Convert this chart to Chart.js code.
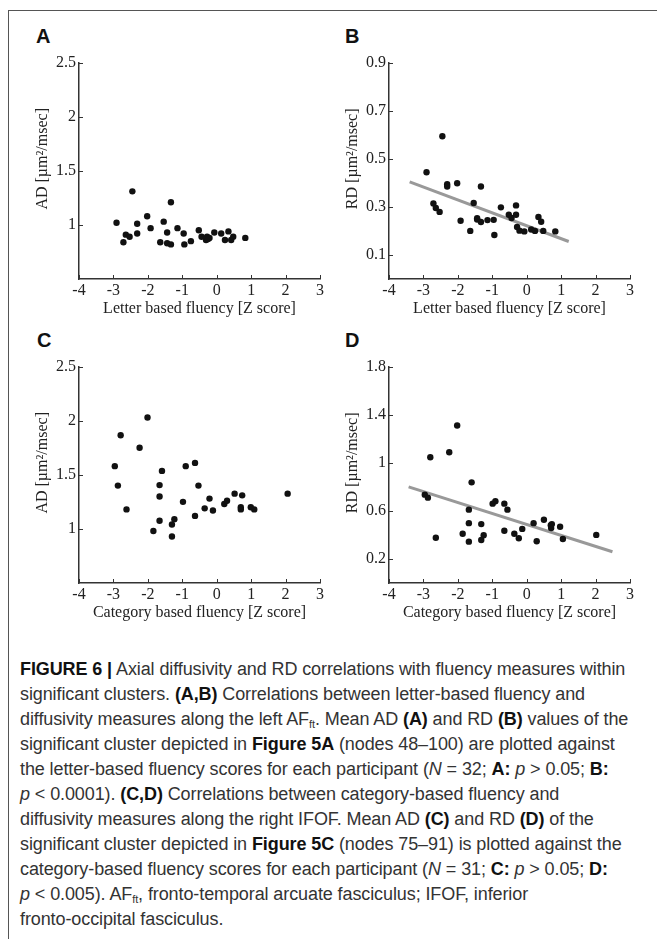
<!DOCTYPE html>
<html>
<head>
<meta charset="utf-8">
<script src="https://cdn.jsdelivr.net/npm/chart.js@4.4.1/dist/chart.umd.min.js"></script>
<style>
  body { margin: 0; background: #fff; width: 657px; height: 939px; position: relative; overflow: hidden; }
  .frame-top { position: absolute; left: 8px; top: 10px; width: 649px; height: 1px; background: #555; }
  .frame-left { position: absolute; left: 8px; top: 10px; width: 1px; height: 929px; background: #555; }
  canvas { position: absolute; }
  .panel { position: absolute; font: bold 20px "Liberation Sans", Arial, sans-serif; color: #111; }
  .caption { position: absolute; left: 20px; top: 657px; width: 640px; font: 18px "Liberation Sans", Arial, sans-serif; line-height: 25px; color: #333; white-space: nowrap; letter-spacing: -0.1px; }
  .caption b { color: #111; }
  .caption sub { font-size: 11px; vertical-align: -3px; line-height: 0; }
</style>
</head>
<body>
<div class="frame-top"></div>
<div class="frame-left"></div>

<div class="panel" style="left:36px; top:25px;">A</div>
<div class="panel" style="left:345px; top:25px;">B</div>
<div class="panel" style="left:37px; top:329px;">C</div>
<div class="panel" style="left:345px; top:329px;">D</div>

<canvas id="chartA" width="310" height="280" style="left:20px; top:50px;"></canvas>
<canvas id="chartB" width="310" height="280" style="left:330px; top:50px;"></canvas>
<canvas id="chartC" width="310" height="280" style="left:20px; top:354px;"></canvas>
<canvas id="chartD" width="310" height="280" style="left:330px; top:354px;"></canvas>

<div class="caption">
<div><b>FIGURE 6 |</b> Axial diffusivity and RD correlations with fluency measures within</div>
<div>significant clusters. <b>(A,B)</b> Correlations between letter-based fluency and</div>
<div>diffusivity measures along the left AF<sub>ft</sub>. Mean AD <b>(A)</b> and RD <b>(B)</b> values of the</div>
<div>significant cluster depicted in <b>Figure 5A</b> (nodes 48–100) are plotted against</div>
<div>the letter-based fluency scores for each participant (<i>N</i> = 32; <b>A:</b> <i>p</i> &gt; 0.05; <b>B:</b></div>
<div><i>p</i> &lt; 0.0001). <b>(C,D)</b> Correlations between category-based fluency and</div>
<div>diffusivity measures along the right IFOF. Mean AD <b>(C)</b> and RD <b>(D)</b> of the</div>
<div>significant cluster depicted in <b>Figure 5C</b> (nodes 75–91) is plotted against the</div>
<div>category-based fluency scores for each participant (<i>N</i> = 31; <b>C:</b> <i>p</i> &gt; 0.05; <b>D:</b></div>
<div><i>p</i> &lt; 0.005). AF<sub>ft</sub>, fronto-temporal arcuate fasciculus; IFOF, inferior</div>
<div>fronto-occipital fasciculus.</div>
</div>

<script>
// letter based fluency (panels A, B), 32 participants
const letterZ = [-2.91, -2.45, -2.71, -2.64, -2.53, -2.31, -2.31, -2.02, -1.92, -1.64, -1.54, -1.44, -1.44, -1.33, -1.33, -1.14,
                 -0.96, -0.94, -0.75, -0.52, -0.44, -0.31, -0.28, -0.21, -0.07, 0.13, 0.24, 0.34, 0.42, 0.48, 0.83, -0.25];
const letterAD = [1.02, 1.31, 0.84, 0.91, 0.89, 1.01, 0.92, 1.08, 0.97, 0.84, 1.03, 0.93, 0.83, 1.21, 0.82, 0.97,
                  0.92, 0.82, 0.85, 0.95, 0.89, 0.86, 0.89, 0.88, 0.93, 0.92, 0.86, 0.94, 0.86, 0.89, 0.88, 0.87];
const letterZ_B = [-2.91, -2.45, -2.71, -2.64, -2.53, -2.31, -2.31, -2.02, -1.92, -1.64, -1.54, -1.44, -1.44, -1.33, -1.33, -1.14,
                   -0.96, -0.94, -0.75, -0.52, -0.44, -0.31, -0.31, -0.28, -0.21, -0.07, 0.13, 0.24, 0.34, 0.42, 0.48, 0.83];
const letterRD = [0.444, 0.594, 0.314, 0.295, 0.279, 0.394, 0.385, 0.398, 0.242, 0.200, 0.316, 0.253, 0.247, 0.385, 0.237, 0.245,
                  0.246, 0.183, 0.298, 0.267, 0.254, 0.306, 0.267, 0.216, 0.201, 0.198, 0.206, 0.200, 0.258, 0.238, 0.200, 0.198];
const fitB_x = [-3.40, 1.22];
const fitB_y = [0.404, 0.156];

// category based fluency (panels C, D), 31 participants
const categoryZ = [-2.01, -2.79, -2.24, -2.96, -1.59, -0.90, -0.63, -2.87, -1.66, -0.53, -1.66, 0.52, 0.74, 2.06, -0.98, -0.21,
                   0.22, 0.30, -2.62, -0.35, -0.11, 0.70, 0.70, 0.99, 1.09, -0.63, -1.66, -1.23, -1.30, -1.84, -1.30];
const categoryAD = [2.03, 1.865, 1.75, 1.58, 1.536, 1.58, 1.61, 1.40, 1.405, 1.40, 1.30, 1.326, 1.31, 1.326, 1.25, 1.28,
                    1.23, 1.26, 1.18, 1.19, 1.17, 1.20, 1.18, 1.20, 1.18, 1.12, 1.076, 1.09, 1.04, 0.98, 0.93];
const categoryZ_D = [-2.02, -2.80, -2.25, -1.60, -2.96, -2.87, -0.99, -0.91, -0.65, -0.56, -1.68, -1.68, -1.32, -2.64, -1.86, -1.68,
                     -1.32, -1.25, -0.65, -0.36, -0.23, -0.13, 0.20, 0.29, 0.50, 0.70, 0.71, 0.73, 0.97, 1.05, 2.02];
const categoryRD = [1.31, 1.046, 1.088, 0.837, 0.735, 0.71, 0.66, 0.68, 0.66, 0.61, 0.61, 0.498, 0.49, 0.377, 0.41, 0.344,
                    0.358, 0.397, 0.435, 0.41, 0.372, 0.45, 0.498, 0.347, 0.526, 0.48, 0.457, 0.49, 0.468, 0.366, 0.40];
const fitD_x = [-3.43, 2.49];
const fitD_y = [0.80, 0.26];

// axes
const xTicks = [-4, -3, -2, -1, 0, 1, 2, 3];
const adTicks = [1, 1.5, 2, 2.5];
const rdTicksB = [0.1, 0.3, 0.5, 0.7, 0.9];
const rdTicksD = [0.2, 0.6, 1, 1.4, 1.8];

const serif = '"Liberation Serif", "Times New Roman", serif';
const axisColor = '#333';

// MATLAB-like inward ticks and offset y label
const matlabAxes = {
    id: 'matlabAxes',
    afterDraw(chart, args, opts) {
        const ctx = chart.ctx;
        const area = chart.chartArea;
        const xs = chart.scales.x, ys = chart.scales.y;
        ctx.save();
        ctx.strokeStyle = axisColor;
        ctx.lineWidth = 1;
        ctx.beginPath();
        xs.ticks.forEach(t => {
            const px = Math.round(xs.getPixelForValue(t.value)) + 0.5;
            ctx.moveTo(px, area.bottom);
            ctx.lineTo(px, area.bottom - 4);
        });
        ys.ticks.forEach(t => {
            const py = Math.round(ys.getPixelForValue(t.value)) + 0.5;
            ctx.moveTo(area.left, py);
            ctx.lineTo(area.left + 4, py);
        });
        ctx.stroke();

        ctx.fillStyle = '#222';
        ctx.font = '16px ' + serif;
        ctx.textAlign = 'center';
        ctx.textBaseline = 'middle';
        ctx.translate(area.left - 36, (area.top + area.bottom) / 2 - 12);
        ctx.rotate(-Math.PI / 2);
        ctx.fillText(opts.text, 0, 0);
        ctx.restore();
    }
};

function makeChart(id, xs, ys, yMin, yMax, yTicks, xTitle, yTitle, fitX, fitY) {
    const datasets = [{
        data: xs.map((x, i) => ({ x: x, y: ys[i] })),
        backgroundColor: '#111',
        borderWidth: 0,
        pointRadius: 3.2,
        order: 1
    }];
    if (fitX) {
        datasets.push({
            data: fitX.map((x, i) => ({ x: x, y: fitY[i] })),
            showLine: true,
            borderColor: '#999',
            borderWidth: 3,
            pointRadius: 0,
            order: 2
        });
    }
    return new Chart(document.getElementById(id), {
        type: 'scatter',
        data: { datasets: datasets },
        options: {
            responsive: false,
            animation: false,
            devicePixelRatio: 1,
            layout: { padding: { top: 10, right: 10, left: 0, bottom: 0 } },
            plugins: {
                legend: { display: false },
                tooltip: { enabled: false },
                matlabAxes: { text: yTitle }
            },
            scales: {
                x: {
                    min: -4, max: 3,
                    afterBuildTicks: s => { s.ticks = xTicks.map(v => ({ value: v })); },
                    afterFit: s => { s.height = 51; },
                    grid: { display: true, drawOnChartArea: false, drawTicks: false },
                    border: { color: axisColor, width: 1.5 },
                    ticks: { color: '#222', font: { family: serif, size: 16 }, padding: 2, maxRotation: 0,
                             callback: v => String(v) },
                    title: { display: true, text: xTitle, color: '#222', font: { family: serif, size: 16 },
                             padding: { top: 0, bottom: 12 } }
                },
                y: {
                    min: yMin, max: yMax,
                    afterBuildTicks: s => { s.ticks = yTicks.map(v => ({ value: v })); },
                    afterFit: s => { s.width = 59; },
                    grid: { display: true, drawOnChartArea: false, drawTicks: false },
                    border: { color: axisColor, width: 1.5 },
                    ticks: { color: '#222', font: { family: serif, size: 16 }, padding: 3,
                             callback: v => String(v) }
                }
            }
        },
        plugins: [matlabAxes]
    });
}

makeChart('chartA', letterZ, letterAD, 0.5, 2.5, adTicks, 'Letter based fluency [Z score]', 'AD [µm²/msec]');
makeChart('chartB', letterZ_B, letterRD, 0, 0.9, rdTicksB, 'Letter based fluency [Z score]', 'RD [µm²/msec]', fitB_x, fitB_y);
makeChart('chartC', categoryZ, categoryAD, 0.5, 2.5, adTicks, 'Category based fluency [Z score]', 'AD [µm²/msec]');
makeChart('chartD', categoryZ_D, categoryRD, 0, 1.8, rdTicksD, 'Category based fluency [Z score]', 'RD [µm²/msec]', fitD_x, fitD_y);
</script>
</body>
</html>
